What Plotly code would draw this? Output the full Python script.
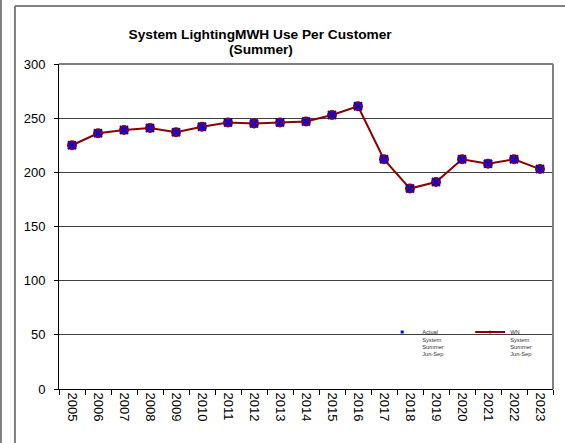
import plotly.graph_objects as go

years = [str(y) for y in range(2005, 2024)]
actual = [225, 236, 239, 241, 237, 242, 246, 245, 246, 247, 253, 261, 212, 185, 191, 212, 208, 212, 203]
wn = [225, 236, 239, 241, 237, 242, 246, 245, 246, 247, 253, 261, 212, 185, 191, 212, 208, 212, 203]
y_ticks = [0, 50, 100, 150, 200, 250, 300]
title_line1 = "System LightingMWH Use Per Customer"
title_line2 = "(Summer)"

W, H = 565, 443
L, R, T, B = 59, 12.3, 64.3, 53.7
pw, ph = W - L - R, H - T - B

def px_x(x):
    return (x - L) / pw

def px_y(y):
    return (H - B - y) / ph

FONT = "Arial, Liberation Sans, sans-serif"
RED = "#8B0000"

fig = go.Figure()
fig.add_trace(go.Scatter(
    x=years, y=wn, mode="lines+markers", showlegend=False,
    line=dict(color=RED, width=2),
    marker=dict(symbol="circle", size=10, color=RED),
))
fig.add_trace(go.Scatter(
    x=years, y=actual, mode="markers", showlegend=False,
    marker=dict(symbol="x-thin", size=8, color="blue", line=dict(color="blue", width=2)),
))
# legend entries
fig.add_trace(go.Scatter(
    x=[None], y=[None], mode="markers", name="Actual<br>System<br>Summer<br>Jun-Sep",
    marker=dict(symbol="square", size=3, color="blue"),
))
fig.add_trace(go.Scatter(
    x=[None], y=[None], mode="lines+markers", name="WN<br>System<br>Summer<br>Jun-Sep",
    line=dict(color=RED, width=2), marker=dict(symbol="circle", size=3, color=RED),
))

shapes = [
    dict(type="line", xref="paper", yref="paper", x0=px_x(15), x1=px_x(15), y0=px_y(6.3), y1=px_y(460),
         line=dict(color="#808080", width=2)),
    dict(type="line", xref="paper", yref="paper", x0=px_x(15), x1=px_x(600), y0=px_y(6.3), y1=px_y(6.3),
         line=dict(color="#808080", width=2)),
    dict(type="line", xref="paper", yref="paper", x0=px_x(1), x1=px_x(1), y0=px_y(-10), y1=px_y(460),
         line=dict(color="#808080", width=2)),
    dict(type="line", xref="paper", yref="paper", x0=0, x1=1, y0=1, y1=1,
         line=dict(color="#808080", width=2)),
    dict(type="line", xref="paper", yref="paper", x0=1, x1=1, y0=0, y1=1,
         line=dict(color="#808080", width=2)),
]

fig.update_layout(
    width=W, height=H,
    margin=dict(l=L, r=R, t=T, b=B, pad=0, autoexpand=False),
    paper_bgcolor="white", plot_bgcolor="white",
    font=dict(family=FONT, color="black", size=13),
    title=dict(text="<b>" + title_line1 + "</b>",
               x=px_x(260), xanchor="center", xref="paper",
               y=1 - 34 / H, yanchor="middle", yref="container",
               font=dict(size=13.7, family=FONT, color="black")),
    annotations=[dict(text="<b>" + title_line2 + "</b>", xref="paper", yref="paper",
                      x=px_x(261), y=px_y(49.5), xanchor="center", yanchor="middle",
                      showarrow=False, font=dict(size=13.7, family=FONT, color="black"))],
    shapes=shapes,
    showlegend=True,
    legend=dict(orientation="h", x=px_x(382), xanchor="left", y=px_y(322), yanchor="top",
                font=dict(size=5.7, family=FONT, color="#333"), bgcolor="rgba(0,0,0,0)",
                valign="top", entrywidth=43, entrywidthmode="pixels"),
)
fig.update_xaxes(type="category", range=[-0.5, len(years) - 0.5], tickson="boundaries",
                 ticks="outside", ticklen=5, tickcolor="black",
                 showline=True, linecolor="black", linewidth=1, showgrid=False, tickangle=90,
                 tickfont=dict(size=13, family=FONT))
fig.update_yaxes(range=[0, 300], tickvals=y_ticks, ticks="outside", ticklen=4, tickcolor="black",
                 showline=True, linecolor="black", linewidth=1, showgrid=True, gridcolor="#404040",
                 gridwidth=1, zeroline=False, tickfont=dict(size=13, family=FONT), ticklabelstandoff=6)

fig.write_html("out.html", config={"displayModeBar": False},
               post_script="document.documentElement.style.overflow='hidden';"
                           "document.body.style.margin='0';document.body.style.overflow='hidden';")
